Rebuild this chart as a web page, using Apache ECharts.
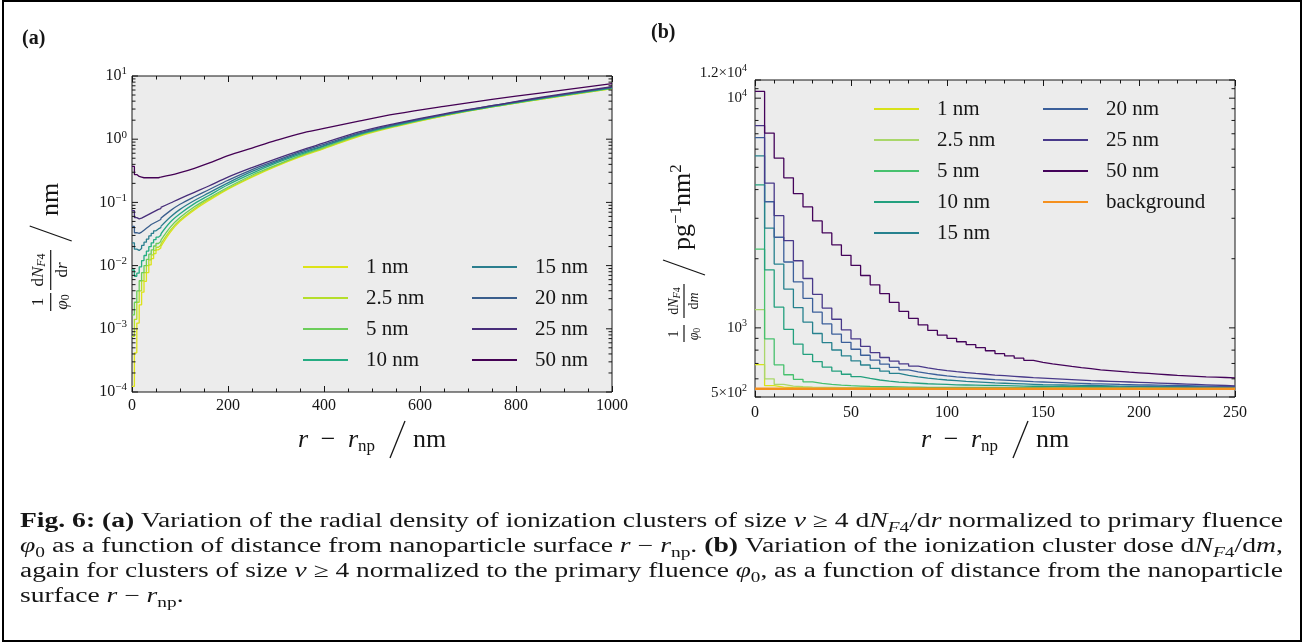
<!DOCTYPE html>
<html>
<head>
<meta charset="utf-8">
<title>Fig. 6</title>
<script src="https://cdn.jsdelivr.net/npm/echarts@6.0.0/dist/echarts.min.js"></script>
<style>
html,body{margin:0;padding:0;background:#ffffff;}
#chart{width:1305px;height:644px;}
</style>
</head>
<body>
<div id="chart"></div>
<script>
// ===================== DATA =====================
const SIZES = ['1 nm', '2.5 nm', '5 nm', '10 nm', '15 nm', '20 nm', '25 nm', '50 nm'];

// ---- Panel (a): (1/phi0) dN_F4/dr, values stored as log10 ----
// stepped part near the surface (5 nm bins)
const A_STEP_R = [0, 5, 10, 15, 20, 25, 30, 35, 40, 45, 50, 55, 60];
const A_STEP_LOG_1NM   = [-3.91, -3.38, -2.91, -2.62, -2.42, -2.25, -2.11, -1.99, -1.89, -1.81, -1.75, -1.72];
const A_STEP_LOG_2P5NM = [-3.12, -2.85, -2.58, -2.40, -2.24, -2.11, -2.00, -1.91, -1.83, -1.76, -1.71, -1.68];
const A_STEP_LOG_5NM   = [-2.78, -2.58, -2.40, -2.24, -2.11, -2.00, -1.90, -1.82, -1.75, -1.69, -1.65, -1.62];
const A_STEP_LOG_10NM  = [-2.07, -2.17, -2.12, -2.02, -1.92, -1.84, -1.77, -1.70, -1.64, -1.59, -1.55, -1.52];
const A_STEP_LOG_15NM  = [-1.64, -1.74, -1.76, -1.73, -1.68, -1.63, -1.58, -1.53, -1.49, -1.45, -1.42, -1.40];
const A_STEP_LOG_20NM  = [-1.38, -1.48, -1.49, -1.47, -1.44, -1.41, -1.38, -1.35, -1.33, -1.31, -1.29, -1.27];
const A_STEP_LOG_25NM  = [-1.13, -1.24, -1.26, -1.25, -1.23, -1.21, -1.19, -1.17, -1.15, -1.13, -1.11, -1.10];
const A_STEP_LOG_50NM  = [-0.43, -0.56, -0.59, -0.60, -0.61, -0.61, -0.61, -0.61, -0.61, -0.61, -0.61, -0.60];
// smooth part
const A_LINE_R = [60, 80, 100, 130, 160, 200, 250, 300, 350, 400, 475, 550, 650, 750, 850, 1000];
const A_LINE_LOG_1NM   = [-1.70, -1.47, -1.30, -1.12, -0.97, -0.79, -0.60, -0.43, -0.28, -0.15, 0.05, 0.20, 0.37, 0.51, 0.63, 0.80];
const A_LINE_LOG_2P5NM = [-1.66, -1.44, -1.28, -1.10, -0.95, -0.78, -0.59, -0.42, -0.27, -0.14, 0.06, 0.21, 0.37, 0.51, 0.63, 0.80];
const A_LINE_LOG_5NM   = [-1.60, -1.39, -1.24, -1.07, -0.93, -0.76, -0.57, -0.41, -0.26, -0.13, 0.07, 0.21, 0.38, 0.51, 0.64, 0.81];
const A_LINE_LOG_10NM  = [-1.50, -1.31, -1.18, -1.02, -0.89, -0.72, -0.54, -0.38, -0.24, -0.11, 0.08, 0.22, 0.38, 0.52, 0.64, 0.81];
const A_LINE_LOG_15NM  = [-1.38, -1.23, -1.11, -0.97, -0.85, -0.69, -0.51, -0.36, -0.22, -0.10, 0.09, 0.23, 0.39, 0.52, 0.65, 0.82];
const A_LINE_LOG_20NM  = [-1.25, -1.13, -1.03, -0.91, -0.80, -0.65, -0.48, -0.34, -0.20, -0.08, 0.10, 0.24, 0.39, 0.53, 0.65, 0.82];
const A_LINE_LOG_25NM  = [-1.08, -1.01, -0.94, -0.84, -0.74, -0.60, -0.45, -0.31, -0.18, -0.06, 0.12, 0.25, 0.40, 0.53, 0.66, 0.83];
const A_LINE_LOG_50NM  = [-0.60, -0.57, -0.53, -0.46, -0.38, -0.26, -0.14, -0.02, 0.09, 0.17, 0.29, 0.40, 0.52, 0.63, 0.73, 0.88];
const A_Y_TICKS = [1e-4, 1e-3, 1e-2, 1e-1, 1, 10];
const A_Y_TICK_LABELS = [['10', '−4'], ['10', '−3'], ['10', '−2'], ['10', '−1'], ['10', '0'], ['10', '1']];
const A_Y_MINOR_MANTISSAS = [2, 3, 4, 5, 6, 7, 8, 9];
const A_Y_MINOR_DECADES = [1e-4, 1e-3, 1e-2, 1e-1, 1];

// ---- Panel (b): (1/phi0) dN_F4/dm per 5 nm bin ----
const B_BIN_EDGES = [0, 5, 10, 15, 20, 25, 30, 35, 40, 45, 50, 55, 60, 65, 70, 75, 80, 85, 90, 95,
  100, 105, 110, 115, 120, 125, 130, 135, 140, 145, 150, 155, 160, 165, 170, 175, 180, 185, 190, 195,
  200, 205, 210, 215, 220, 225, 230, 235, 240, 245, 250];
const B_1NM = [692, 560, 552, 549, 548, 547, 547, 547, 546, 546, 546, 546, 546, 546, 546, 546, 546, 546, 546, 546,
  546, 546, 546, 546, 546, 546, 546, 546, 546, 546, 546, 546, 546, 546, 546, 546, 546, 546, 546, 546,
  546, 546, 546, 546, 546, 546, 546, 546, 546, 546];
const B_2P5NM = [1200, 600, 567, 558, 554, 552, 551, 550, 549, 549, 548, 548, 548, 548, 548, 547, 547, 547, 547, 547,
  547, 547, 547, 547, 547, 547, 547, 547, 547, 547, 547, 547, 547, 547, 547, 547, 547, 547, 547, 547,
  547, 547, 547, 547, 547, 547, 547, 547, 547, 547];
const B_5NM = [2200, 896, 690, 625, 597, 582, 573, 567, 563, 560, 558, 556, 555, 554, 553, 552, 552, 551, 551, 551,
  550, 550, 550, 550, 549, 549, 549, 549, 549, 549, 548, 548, 548, 548, 548, 548, 548, 548, 548, 547,
  547, 547, 547, 547, 547, 547, 547, 547, 547, 547];
const B_10NM = [4190, 1790, 1230, 985, 850, 767, 713, 675, 648, 628, 613, 602, 593, 586, 581, 577, 574, 571, 569, 567,
  565, 564, 563, 562, 561, 560, 559, 558, 557, 557, 556, 556, 555, 555, 554, 554, 554, 553, 553, 553,
  552, 552, 552, 552, 551, 551, 551, 551, 550, 550];
const B_15NM = [5610, 2720, 1895, 1475, 1225, 1060, 945, 863, 801, 755, 718, 689, 666, 648, 633, 621, 612, 604, 598, 593,
  589, 585, 582, 579, 576, 574, 572, 570, 568, 566, 565, 564, 563, 562, 561, 560, 559, 558, 557, 557,
  556, 556, 555, 555, 554, 554, 553, 553, 552, 552];
const B_20NM = [6740, 3540, 2480, 1935, 1585, 1345, 1170, 1040, 940, 865, 807, 760, 723, 695, 673, 656, 643, 633, 625, 618,
  612, 607, 603, 599, 595, 592, 589, 586, 583, 581, 579, 577, 575, 573, 571, 570, 569, 567, 566, 565,
  564, 563, 562, 561, 560, 559, 558, 557, 556, 555];
const B_25NM = [7600, 4270, 3080, 2400, 1960, 1640, 1400, 1220, 1090, 980, 895, 830, 780, 743, 717, 697, 682, 670, 660, 652,
  645, 639, 633, 628, 623, 619, 615, 611, 607, 604, 601, 598, 595, 592, 589, 587, 585, 583, 581, 579,
  577, 575, 573, 571, 569, 567, 565, 563, 561, 559];
const B_50NM = [10700, 7050, 5480, 4500, 3840, 3360, 2920, 2590, 2300, 2070, 1870, 1690, 1540, 1410, 1290, 1180, 1100, 1030, 975, 930,
  900, 870, 845, 820, 795, 772, 755, 738, 722, 708, 697, 688, 679, 671, 664, 656, 651, 646, 641, 637,
  633, 629, 625, 621, 618, 615, 612, 610, 608, 606];
const B_BACKGROUND = [543, 543, 543, 543, 543, 543, 543, 543, 543, 543, 543, 543, 543, 543, 543, 543, 543, 543, 543, 543,
  543, 543, 543, 543, 543, 543, 543, 543, 543, 543, 543, 543, 543, 543, 543, 543, 543, 543, 543, 543,
  543, 543, 543, 543, 543, 543, 543, 543, 543, 543];
const B_Y_TICKS = [500, 1000, 10000, 12000];
const B_Y_TICK_LABELS = [['5×10', '2'], ['10', '3'], ['10', '4'], ['1.2×10', '4']];
const B_Y_MINOR = [600, 700, 800, 900, 2000, 3000, 4000, 5000, 6000, 7000, 8000, 9000, 11000];

// ===================== STYLE =====================
const FF = "'Liberation Serif', 'Times New Roman', serif";
const INK = '#161616';
const A_COLORS = ['#dde318', '#b5de2b', '#6ccd5a', '#25ac82', '#2b7e8e', '#3a5e8c', '#482e7a', '#440154'];
const B_COLORS = ['#d8e219', '#a9d76a', '#47c16e', '#23a07e', '#26818e', '#3b5f9a', '#48398a', '#44035a', '#f5901e'];

const A_STEP = [A_STEP_LOG_1NM, A_STEP_LOG_2P5NM, A_STEP_LOG_5NM, A_STEP_LOG_10NM, A_STEP_LOG_15NM, A_STEP_LOG_20NM, A_STEP_LOG_25NM, A_STEP_LOG_50NM];
const A_LINE = [A_LINE_LOG_1NM, A_LINE_LOG_2P5NM, A_LINE_LOG_5NM, A_LINE_LOG_10NM, A_LINE_LOG_15NM, A_LINE_LOG_20NM, A_LINE_LOG_25NM, A_LINE_LOG_50NM];
const B_SERIES = [B_1NM, B_2P5NM, B_5NM, B_10NM, B_15NM, B_20NM, B_25NM, B_50NM, B_BACKGROUND];
const B_NAMES = SIZES.concat(['background']);

const series = [];
// panel (a) series
SIZES.forEach((nm, k) => {
  const name = 'a|' + nm;
  const stepData = A_STEP_R.map((r, i) => [r, Math.pow(10, i < A_STEP[k].length ? A_STEP[k][i] : A_LINE[k][0])]);
  const lineData = A_LINE_R.map((r, i) => [r, Math.pow(10, A_LINE[k][i])]);
  const common = {
    type: 'line', name, xAxisIndex: 0, yAxisIndex: 0, symbol: 'none', showSymbol: false,
    lineStyle: {color: A_COLORS[k], width: 1.3}, itemStyle: {color: A_COLORS[k]},
    z: 3 + k, silent: true, clip: true
  };
  series.push(Object.assign({}, common, {step: 'end', data: stepData}));
  series.push(Object.assign({}, common, {smooth: 0.35, data: lineData}));
});
// panel (b) series
B_NAMES.forEach((nm, k) => {
  const vals = B_SERIES[k];
  const data = B_BIN_EDGES.map((x, i) => [x, vals[Math.min(i, vals.length - 1)]]);
  series.push({
    type: 'line', name: 'b|' + nm, xAxisIndex: 2, yAxisIndex: 1, step: 'end', symbol: 'none', showSymbol: false,
    lineStyle: {color: B_COLORS[k], width: k === 8 ? 2.6 : 1.3}, itemStyle: {color: B_COLORS[k]},
    z: 3 + k, silent: true, clip: true, data
  });
});

// y-axis ticks (log) drawn through the axis scale by custom series
function yTickSeries(xIdx, yIdx, xMin, majors, labels, minors, opt) {
  const data = majors.map((v, i) => [xMin, v, 1, i]).concat(minors.map(v => [xMin, v, 0, -1]));
  return {
    type: 'custom', xAxisIndex: xIdx, yAxisIndex: yIdx, silent: true, z: 20, clip: false, data,
    renderItem(params, api) {
      const cs = params.coordSys;
      const y = api.coord([api.value(0), api.value(1)])[1];
      const major = api.value(2) === 1;
      const L = major ? 6 : 3.5;
      const ch = [
        {type: 'line', shape: {x1: cs.x, y1: y, x2: cs.x + L, y2: y}, style: {stroke: INK, lineWidth: 1}},
        {type: 'line', shape: {x1: cs.x + cs.width, y1: y, x2: cs.x + cs.width - L, y2: y}, style: {stroke: INK, lineWidth: 1}}
      ];
      if (major) {
        const li = api.value(3);
        const fs = opt.sizes[li];
        ch.push({
          type: 'text', x: cs.x - opt.gap, y: y + opt.dy[li],
          style: {
            text: labels[li][0] + '{s|' + labels[li][1] + '}',
            fontFamily: FF, fontSize: fs, fill: INK, align: 'right', verticalAlign: 'middle', lineHeight: fs + 4,
            rich: {s: {fontFamily: FF, fontSize: Math.round(fs * 0.68), fill: INK, lineHeight: Math.round(fs * 0.7), verticalAlign: 'top'}}
          }
        });
      }
      return {type: 'group', children: ch};
    }
  };
}
const aMinor = [];
A_Y_MINOR_DECADES.forEach(d => A_Y_MINOR_MANTISSAS.forEach(m => aMinor.push(m * d)));
series.push(yTickSeries(0, 0, 0, A_Y_TICKS, A_Y_TICK_LABELS, aMinor, {gap: 5, sizes: [16, 16, 16, 16, 16, 16], dy: [0, 0, 0, 0, 0, 0]}));
series.push(yTickSeries(2, 1, 0, B_Y_TICKS, B_Y_TICK_LABELS, B_Y_MINOR, {gap: 8, sizes: [15, 15, 15, 15], dy: [-4, 0, 0, -7]}));

// ---------------- axes ----------------
function xAxisCfg(grid, max, interval, minorSplit, top) {
  return {
    gridIndex: grid, type: 'value', min: 0, max, interval, position: top ? 'top' : 'bottom',
    axisLine: {show: false}, splitLine: {show: false},
    axisTick: {show: true, inside: true, length: 6, lineStyle: {color: INK, width: 1}},
    minorTick: {show: true, splitNumber: minorSplit, length: 3.5, lineStyle: {color: INK, width: 1}},
    axisLabel: {show: !top, fontFamily: FF, fontSize: 16, color: INK, margin: grid === 0 ? 6 : 8, formatter: v => String(v)}
  };
}
function yAxisCfg(grid, min, max) {
  return {
    gridIndex: grid, type: 'log', logBase: 10, min, max,
    axisLine: {show: false}, axisTick: {show: false}, axisLabel: {show: false}, splitLine: {show: false}, minorTick: {show: false}
  };
}

// ---------------- legends ----------------
function legendCfg(left, top, names) {
  return {
    left, top, orient: 'vertical', padding: 0, itemWidth: 45, itemHeight: 2, itemGap: 9, icon: 'rect',
    selectedMode: false, data: names, formatter: n => n.slice(2),
    textStyle: {fontFamily: FF, fontSize: 21, color: INK, lineHeight: 22, padding: [0, 0, 0, 13]}
  };
}

// ---------------- text helpers ----------------
const mctx = document.createElement('canvas').getContext('2d');
function styleFont(st) {
  return (st.fontStyle || 'normal') + ' ' + (st.fontWeight || 'normal') + ' ' + st.fontSize + 'px ' + FF;
}
function buildRich(segs, rich) {
  let s = '', w = 0;
  segs.forEach(([t, k]) => {
    s += '{' + k + '|' + t + '}';
    mctx.font = styleFont(rich[k]);
    w += mctx.measureText(t).width;
  });
  return {text: s, width: w};
}
const CAP_FS = 20;
const capRich = {
  n: {fontFamily: FF, fontSize: CAP_FS, lineHeight: 26, fill: INK},
  b: {fontFamily: FF, fontSize: CAP_FS, lineHeight: 26, fill: INK, fontWeight: 'bold'},
  i: {fontFamily: FF, fontSize: CAP_FS, lineHeight: 26, fill: INK, fontStyle: 'italic'},
  s: {fontFamily: FF, fontSize: 14, lineHeight: 15, fill: INK, verticalAlign: 'bottom'},
  si: {fontFamily: FF, fontSize: 14, lineHeight: 15, fill: INK, verticalAlign: 'bottom', fontStyle: 'italic'}
};
const CAPTION = [
  [['Fig. 6:', 'b'], [' ', 'n'], ['(a)', 'b'], [' Variation of the radial density of ionization clusters of size ', 'n'], ['ν', 'i'], [' ≥ 4 d', 'n'], ['N', 'i'], ['F', 'si'], ['4', 's'], ['/d', 'n'], ['r', 'i'], [' normalized to primary fluence', 'n']],
  [['φ', 'i'], ['0', 's'], [' as a function of distance from nanoparticle surface ', 'n'], ['r', 'i'], [' − ', 'n'], ['r', 'i'], ['np', 's'], ['. ', 'n'], ['(b)', 'b'], [' Variation of the ionization cluster dose d', 'n'], ['N', 'i'], ['F', 'si'], ['4', 's'], ['/d', 'n'], ['m', 'i'], [',', 'n']],
  [['again for clusters of size ', 'n'], ['ν', 'i'], [' ≥ 4 normalized to the primary fluence ', 'n'], ['φ', 'i'], ['0', 's'], [', as a function of distance from the nanoparticle', 'n']],
  [['surface ', 'n'], ['r', 'i'], [' − ', 'n'], ['r', 'i'], ['np', 's'], ['.', 'n']]
];
const CAP_LEFT = 20, CAP_WIDTH = 1263, CAP_Y = [522, 547, 572, 597];
const graphics = [];
let firstScale = 1;
CAPTION.forEach((segs, li) => {
  const r = buildRich(segs, capRich);
  let sc = CAP_WIDTH / r.width;
  if (li === 0) firstScale = sc;
  if (li === 3) sc = firstScale;
  graphics.push({type: 'text', x: CAP_LEFT, y: CAP_Y[li], scaleX: sc, scaleY: 1, originX: 0, originY: 0, silent: true,
    style: {text: r.text, rich: capRich, fontFamily: FF, fontSize: CAP_FS, fill: INK, align: 'left', verticalAlign: 'middle'}});
});

// frame
graphics.push({type: 'rect', shape: {x: 3, y: 1, width: 1298, height: 640}, style: {fill: 'none', stroke: '#000', lineWidth: 2}, silent: true});
// panel labels
graphics.push({type: 'text', x: 22, y: 39, style: {text: '(a)', fontFamily: FF, fontSize: 20, fontWeight: 'bold', fill: INK, verticalAlign: 'middle'}});
graphics.push({type: 'text', x: 651, y: 33, style: {text: '(b)', fontFamily: FF, fontSize: 20, fontWeight: 'bold', fill: INK, verticalAlign: 'middle'}});

// x-axis titles
const titleRich = {
  i: {fontFamily: FF, fontSize: 26, fontStyle: 'italic', fill: INK, lineHeight: 30},
  n: {fontFamily: FF, fontSize: 26, fill: INK, lineHeight: 30},
  s: {fontFamily: FF, fontSize: 17, fill: INK, lineHeight: 17, verticalAlign: 'bottom'}
};
function xTitle(dx) {
  const y = 440;
  return {type: 'group', x: dx, y: 0, silent: true, children: [
    {type: 'text', x: 298, y, style: {text: '{i|r}', rich: titleRich, verticalAlign: 'middle'}},
    {type: 'text', x: 328, y, style: {text: '{n|−}', rich: titleRich, align: 'center', verticalAlign: 'middle'}},
    {type: 'text', x: 348, y, style: {text: '{i|r}{s|np}', rich: titleRich, verticalAlign: 'middle'}},
    {type: 'line', shape: {x1: 390, y1: 458, x2: 405, y2: 421}, style: {stroke: INK, lineWidth: 1.3}},
    {type: 'text', x: 413, y, style: {text: '{n|nm}', rich: titleRich, verticalAlign: 'middle'}}
  ]};
}
graphics.push(xTitle(0));
graphics.push(xTitle(623));

// y-axis titles (rotated)
function fracRich(fs) {
  return {
    n: {fontFamily: FF, fontSize: fs, fill: INK, lineHeight: fs + 2},
    i: {fontFamily: FF, fontSize: fs, fontStyle: 'italic', fill: INK, lineHeight: fs + 2},
    s: {fontFamily: FF, fontSize: Math.round(fs * 0.7), fill: INK, lineHeight: Math.round(fs * 0.7), verticalAlign: 'bottom'},
    si: {fontFamily: FF, fontSize: Math.round(fs * 0.7), fontStyle: 'italic', fill: INK, lineHeight: Math.round(fs * 0.7), verticalAlign: 'bottom'},
    big: {fontFamily: FF, fontSize: 26, fill: INK, lineHeight: 30},
    sup: {fontFamily: FF, fontSize: 17, fill: INK, lineHeight: 15, verticalAlign: 'top'}
  };
}
function yTitle(x0, y0, fs, g, unitText) {
  const rich = fracRich(fs);
  const c = (t, x, y, al) => ({type: 'text', x, y, style: {text: t, rich, align: al || 'center', verticalAlign: 'middle'}});
  return {type: 'group', x: x0, y: y0, rotation: Math.PI / 2, silent: true, children: [
    c('{n|1}', g.one, -g.off),
    {type: 'rect', shape: {x: g.b1[0], y: -0.6, width: g.b1[1] - g.b1[0], height: 1.2}, style: {fill: INK}},
    c('{i|φ}{s|0}', g.one, g.off),
    {type: 'rect', shape: {x: g.b2[0], y: -0.6, width: g.b2[1] - g.b2[0], height: 1.2}, style: {fill: INK}},
    c('{n|d}{i|N}{si|F}{s|4}', (g.b2[0] + g.b2[1]) / 2, -g.off),
    c(g.den, (g.b2[0] + g.b2[1]) / 2, g.off),
    {type: 'line', shape: {x1: g.sl[0], y1: 21, x2: g.sl[1], y2: -21}, style: {stroke: INK, lineWidth: 1.3}},
    c(unitText, g.unit, g.unitY, 'left')
  ]};
}
graphics.push(yTitle(50.7, 312, 17, {one: 10, off: 12, b1: [1, 19], b2: [22, 62], den: '{n|d}{i|r}', sl: [71, 86], unit: 96, unitY: 0}, '{big|nm}'));
graphics.push(yTitle(684, 342, 14, {one: 8, off: 10, b1: [0, 17], b2: [24, 58], den: '{n|d}{i|m}', sl: [67, 82], unit: 92, unitY: -1}, '{big|pg}{sup|−1}{big|nm}{sup|2}'));

const option = {
  animation: false,
  backgroundColor: '#ffffff',
  grid: [
    {left: 132, top: 76, width: 480, height: 316, show: true, backgroundColor: '#ececec', borderColor: INK, borderWidth: 1, containLabel: false, outerBoundsMode: 'none'},
    {left: 755, top: 80, width: 480, height: 317, show: true, backgroundColor: '#ececec', borderColor: INK, borderWidth: 1, containLabel: false, outerBoundsMode: 'none'}
  ],
  xAxis: [
    xAxisCfg(0, 1000, 200, 4, false),
    xAxisCfg(0, 1000, 200, 4, true),
    xAxisCfg(1, 250, 50, 5, false),
    xAxisCfg(1, 250, 50, 5, true)
  ],
  yAxis: [yAxisCfg(0, 1e-4, 10), yAxisCfg(1, 500, 12000)],
  legend: [
    legendCfg(303, 256, SIZES.slice(0, 4).map(n => 'a|' + n)),
    legendCfg(472, 256, SIZES.slice(4).map(n => 'a|' + n)),
    legendCfg(874, 98, SIZES.slice(0, 5).map(n => 'b|' + n)),
    legendCfg(1043, 98, SIZES.slice(5).concat(['background']).map(n => 'b|' + n))
  ],
  series,
  graphic: graphics
};

const chart = echarts.init(document.getElementById('chart'), null, {renderer: 'canvas'});
chart.setOption(option);
</script>
</body>
</html>
